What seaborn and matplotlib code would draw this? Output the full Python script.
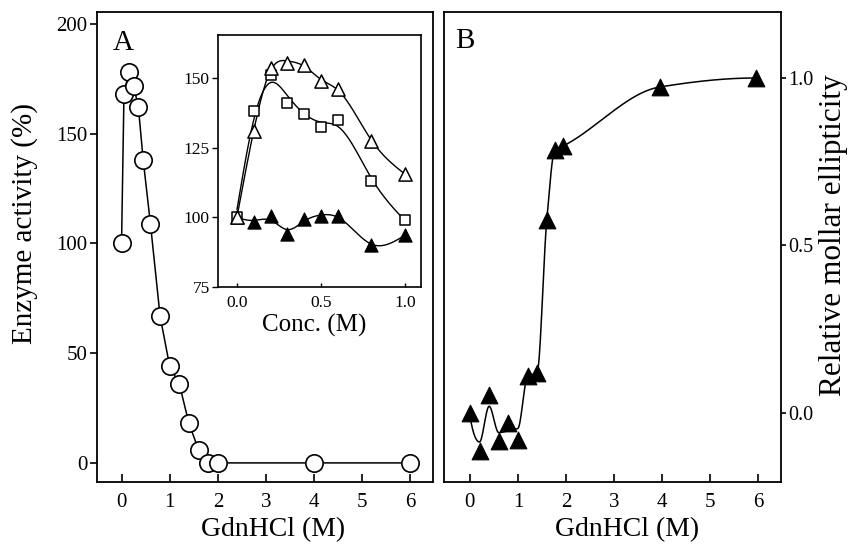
import numpy as np
import pandas as pd
import matplotlib
matplotlib.use("Agg")
import matplotlib.pyplot as plt
import seaborn as sns

# ---------------- data ----------------
# Panel A: enzyme activity vs GdnHCl
gdn_a = [0, 0.05, 0.15, 0.25, 0.35, 0.45, 0.6, 0.8, 1.0, 1.2, 1.4, 1.6, 1.8, 2.0, 4.0, 6.0]
activity = [100, 168, 178, 172, 162, 138, 109, 67, 44, 36, 18, 6, 0, 0, 0, 0]

# Inset: activity vs low concentration (three series)
conc = [0, 0.1, 0.2, 0.3, 0.4, 0.5, 0.6, 0.8, 1.0]
open_tri = [100, 131, 153.5, 155.5, 154.5, 149, 146, 127.5, 115.5]
open_sq = [100, 138, 151, 141, 137, 132.5, 135, 113, 99]
filled_tri = [100, 98.2, 100.4, 94, 99.4, 100.6, 100.4, 90, 93.7]

# Panel B: relative molar ellipticity vs GdnHCl
gdn_b = [0, 0.2, 0.4, 0.6, 0.8, 1.0, 1.2, 1.4, 1.6, 1.77, 1.93, 3.95, 5.95]
ellip = [0.0, -0.114, 0.055, -0.085, -0.03, -0.08, 0.11, 0.12, 0.575, 0.786, 0.796, 0.973, 1.0]

ticks_a_x = [0, 1, 2, 3, 4, 5, 6]
ticks_a_y = [0, 50, 100, 150, 200]
ticks_in_x = [0.0, 0.5, 1.0]
ticks_in_y = [75, 100, 125, 150]
ticks_b_y = [0.0, 0.5, 1.0]


def _spline_mats(x):
    N = len(x)
    h = np.diff(x)
    Q = np.zeros((N, N - 2))
    R = np.zeros((N - 2, N - 2))
    for j in range(1, N - 1):
        Q[j - 1, j - 1] = 1 / h[j - 1]
        Q[j, j - 1] = -1 / h[j - 1] - 1 / h[j]
        Q[j + 1, j - 1] = 1 / h[j]
        R[j - 1, j - 1] = (h[j - 1] + h[j]) / 3
        if j < N - 2:
            R[j - 1, j] = R[j, j - 1] = h[j] / 6
    return h, Q, R


def smooth_values(x, y, lam, w=None):
    """Fitted values of a weighted cubic smoothing spline (Reinsch)."""
    x = np.asarray(x, float)
    y = np.asarray(y, float)
    N = len(x)
    h, Q, R = _spline_mats(x)
    Wm = np.diag(np.ones(N) if w is None else np.asarray(w, float))
    K = Q @ np.linalg.solve(R, Q.T)
    return np.linalg.solve(Wm + lam * K, Wm @ y)


def smooth_spline(x, y, lam, n=500):
    x = np.asarray(x, float)
    N = len(x)
    f = smooth_values(x, y, lam)
    h, Q, R = _spline_mats(x)
    g = np.linalg.solve(R, Q.T @ f)
    M = np.concatenate([[0], g, [0]])
    xs = np.linspace(x[0], x[-1], n)
    i = np.clip(np.searchsorted(x, xs) - 1, 0, N - 2)
    hi = h[i]
    a = x[i + 1] - xs
    b = xs - x[i]
    ys = (M[i] * a ** 3 / (6 * hi) + M[i + 1] * b ** 3 / (6 * hi)
          + (f[i] - M[i] * hi ** 2 / 6) * a / hi
          + (f[i + 1] - M[i + 1] * hi ** 2 / 6) * b / hi)
    return xs, ys


def pchip(x, y, n=800):
    x = np.asarray(x, float)
    y = np.asarray(y, float)
    N = len(x)
    h = np.diff(x)
    dl = np.diff(y) / h
    d = np.zeros(N)
    for k in range(1, N - 1):
        if dl[k - 1] * dl[k] > 0:
            w1 = 2 * h[k] + h[k - 1]
            w2 = h[k] + 2 * h[k - 1]
            d[k] = (w1 + w2) / (w1 / dl[k - 1] + w2 / dl[k])

    def end(h0, h1, d0, d1):
        v = ((2 * h0 + h1) * d0 - h0 * d1) / (h0 + h1)
        if np.sign(v) != np.sign(d0):
            v = 0.0
        elif np.sign(d0) != np.sign(d1) and abs(v) > abs(3 * d0):
            v = 3 * d0
        return v

    d[0] = end(h[0], h[1], dl[0], dl[1])
    d[-1] = end(h[-1], h[-2], dl[-1], dl[-2])
    xs = np.linspace(x[0], x[-1], n)
    i = np.clip(np.searchsorted(x, xs) - 1, 0, N - 2)
    t = (xs - x[i]) / h[i]
    h00 = 2 * t ** 3 - 3 * t ** 2 + 1
    h10 = t ** 3 - 2 * t ** 2 + t
    h01 = -2 * t ** 3 + 3 * t ** 2
    h11 = t ** 3 - t ** 2
    ys = h00 * y[i] + h10 * h[i] * d[i] + h01 * y[i + 1] + h11 * h[i] * d[i + 1]
    return xs, ys


sns.set_theme(style="ticks")
plt.rcParams["font.family"] = ["Liberation Serif", "DejaVu Serif"]
plt.rcParams.update({
    "axes.linewidth": 1.3,
    "text.color": "black",
    "axes.edgecolor": "black",
    "axes.labelcolor": "black",
    "xtick.color": "black",
    "ytick.color": "black",
})

W, H = 849, 550
fig = plt.figure(figsize=(W / 100, H / 100), dpi=100)


def rect(l, r, t, b):
    return [l / W, 1 - b / H, (r - l) / W, (b - t) / H]


# ---------------- Panel A ----------------
axA = fig.add_axes(rect(97, 433, 12, 482))
sns.lineplot(x=gdn_a, y=activity, ax=axA, color="black", linewidth=1.1,
             marker="o", markersize=12.5, markerfacecolor="white",
             markeredgecolor="black", markeredgewidth=1.2,
             estimator=None, sort=False)
axA.set_xlim(-0.51, 6.47)
axA.set_ylim(-8.7, 205.5)
axA.set_xticks(ticks_a_x)
axA.set_yticks(ticks_a_y)
axA.set_xticklabels([str(t) for t in ticks_a_x])
axA.set_yticklabels([str(t) for t in ticks_a_y])
axA.tick_params(axis="x", direction="in", length=6, width=1.2, labelsize=15, pad=8)
axA.tick_params(axis="y", direction="out", length=5, width=1.2, labelsize=15, pad=2)
axA.set_xlabel("")
axA.set_ylabel("")
axA.text(0.048, 0.92, "A", transform=axA.transAxes, fontsize=21, ha="left", va="baseline")

# ---------------- Inset ----------------
axI = fig.add_axes(rect(218, 421, 35, 287))
axI.set_facecolor("white")
for yy, lam in [(filled_tri, 4e-5), (open_sq, 1.2e-4), (open_tri, 2e-5)]:
    xs, ys = smooth_spline(conc, yy, lam)
    sns.lineplot(x=xs, y=ys, ax=axI, color="black", linewidth=1.0,
                 estimator=None, sort=False)
sns.scatterplot(x=conc, y=filled_tri, ax=axI, marker="^", s=9.5 ** 2,
                color="black", edgecolor="black", linewidth=0.8, zorder=3)
sns.scatterplot(x=conc, y=open_sq, ax=axI, marker="s", s=7.5 ** 2,
                color="white", edgecolor="black", linewidth=1.1, zorder=4)
sns.scatterplot(x=conc, y=open_tri, ax=axI, marker="^", s=9.5 ** 2,
                color="white", edgecolor="black", linewidth=1.1, zorder=5)
axI.set_xlim(-0.113, 1.095)
axI.set_ylim(75, 165.4)
axI.set_xticks(ticks_in_x)
axI.set_yticks(ticks_in_y)
axI.set_xticklabels([f"{t:.1f}" for t in ticks_in_x])
axI.set_yticklabels([str(t) for t in ticks_in_y])
axI.tick_params(axis="x", direction="in", length=3, width=1.0, labelsize=12.5, pad=6)
axI.tick_params(axis="y", direction="out", length=4, width=1.0, labelsize=12.5, pad=2)
axI.set_xlabel("")
axI.set_ylabel("")
for s in axI.spines.values():
    s.set_linewidth(1.2)

# ---------------- Panel B ----------------
axB = fig.add_axes(rect(444, 781, 12, 482))
gb = np.asarray(gdn_b)
wts_b = np.where(gb < 1.1, 1.0, np.where(gb < 2.5, 60.0, 3.0))
fit_b = smooth_values(gdn_b, ellip, 1.8e-4, wts_b)
xs, ys = pchip(gdn_b, fit_b)
sns.lineplot(x=xs, y=ys, ax=axB, color="black", linewidth=1.1,
             estimator=None, sort=False)
sns.scatterplot(x=gdn_b, y=ellip, ax=axB, marker="^", s=12 ** 2,
                color="black", edgecolor="black", linewidth=0.8, zorder=3)
axB.set_xlim(-0.54, 6.48)
axB.set_ylim(-0.206, 1.197)
axB.set_xticks(ticks_a_x)
axB.set_xticklabels([str(t) for t in ticks_a_x])
axB.yaxis.tick_right()
axB.set_yticks(ticks_b_y)
axB.set_yticklabels([f"{t:.1f}" for t in ticks_b_y])
axB.tick_params(axis="x", direction="in", length=6, width=1.2, labelsize=15, pad=8)
axB.tick_params(axis="y", direction="out", length=3.5, width=1.2, labelsize=14.5, pad=1.5,
                left=False, right=True)
axB.set_xlabel("")
axB.set_ylabel("")
axB.text(0.033, 0.923, "B", transform=axB.transAxes, fontsize=21, ha="left", va="baseline")

# ---------------- labels ----------------
fig.text(25 / W, 1 - 224 / H, "Enzyme activity (%)", rotation=90, ha="center", va="center", fontsize=21)
fig.text(273.5 / W, 1 - 530 / H, "GdnHCl (M)", ha="center", va="center", fontsize=20)
fig.text(627.5 / W, 1 - 530 / H, "GdnHCl (M)", ha="center", va="center", fontsize=20)
fig.text(848 / W, 1 - 235 / H, "Relative mollar ellipticity", rotation=90, ha="right", va="center", fontsize=22.5)
fig.text(314.5 / W, 1 - 325 / H, "Conc. (M)", ha="center", va="center", fontsize=18)

fig.savefig("out.png", dpi=100)
